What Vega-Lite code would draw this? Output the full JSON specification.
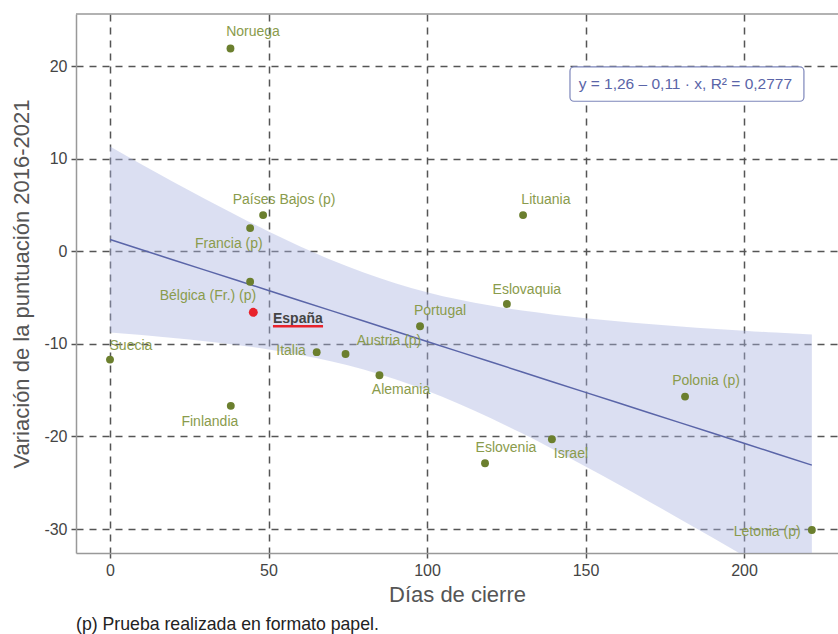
{
  "$schema": "https://vega.github.io/schema/vega-lite/v6.json",
  "width": 762,
  "height": 539,
  "autosize": {"type": "none"},
  "padding": {"left": 76, "top": 14, "right": 0, "bottom": 81},
  "config": {"font": "Liberation Sans", "view": {"stroke": null}},
  "title": {"text": "(p) Prueba realizada en formato papel.", "orient": "bottom", "anchor": "start", "frame": "group", "fontSize": 17.7, "fontWeight": "normal", "color": "#222", "offset": 11},
  "datasets": {
    "paises": [
      {"pais": "Noruega", "dias": 38, "var": 21.9, "lx": 45.1, "ly": 23.65},
      {"pais": "Países Bajos (p)", "dias": 48.3, "var": 3.9, "lx": 54.9, "ly": 5.51},
      {"pais": "Francia (p)", "dias": 44.2, "var": 2.5, "lx": 37.5, "ly": 0.76},
      {"pais": "Bélgica (Fr.) (p)", "dias": 44.2, "var": -3.3, "lx": 30.9, "ly": -4.86},
      {"pais": "España", "dias": 45.2, "var": -6.6, "lx": 51.4, "ly": -7.34},
      {"pais": "Suecia", "dias": 0, "var": -11.7, "lx": 6.6, "ly": -10.26},
      {"pais": "Finlandia", "dias": 38.1, "var": -16.7, "lx": 31.5, "ly": -18.47},
      {"pais": "Italia", "dias": 65.2, "var": -10.9, "lx": 57.1, "ly": -10.8},
      {"pais": "Austria (p)", "dias": 74.3, "var": -11.1, "lx": 88.0, "ly": -9.72},
      {"pais": "Alemania", "dias": 85, "var": -13.4, "lx": 91.8, "ly": -15.01},
      {"pais": "Portugal", "dias": 97.8, "var": -8.1, "lx": 104.1, "ly": -6.48},
      {"pais": "Eslovaquia", "dias": 125.2, "var": -5.7, "lx": 131.5, "ly": -4.21},
      {"pais": "Lituania", "dias": 130.3, "var": 3.9, "lx": 137.5, "ly": 5.51},
      {"pais": "Eslovenia", "dias": 118.3, "var": -22.9, "lx": 124.9, "ly": -21.27},
      {"pais": "Israel", "dias": 139.4, "var": -20.3, "lx": 145.4, "ly": -21.92},
      {"pais": "Polonia (p)", "dias": 181.4, "var": -15.7, "lx": 188.0, "ly": -14.04},
      {"pais": "Letonia (p)", "dias": 221.4, "var": -30.1, "lx": 207.3, "ly": -30.35}
    ],
    "banda": [
      {"dias": 0, "fit": 1.26, "lo": -8.79, "hi": 11.31},
      {"dias": 10, "fit": 0.16, "lo": -9.06, "hi": 9.38},
      {"dias": 20, "fit": -0.94, "lo": -9.37, "hi": 7.49},
      {"dias": 30, "fit": -2.04, "lo": -9.72, "hi": 5.64},
      {"dias": 40, "fit": -3.14, "lo": -10.13, "hi": 3.85},
      {"dias": 50, "fit": -4.24, "lo": -10.61, "hi": 2.13},
      {"dias": 60, "fit": -5.34, "lo": -11.2, "hi": 0.52},
      {"dias": 70, "fit": -6.44, "lo": -11.91, "hi": -0.97},
      {"dias": 80, "fit": -7.54, "lo": -12.78, "hi": -2.3},
      {"dias": 90, "fit": -8.64, "lo": -13.83, "hi": -3.45},
      {"dias": 100, "fit": -9.74, "lo": -15.06, "hi": -4.42},
      {"dias": 110, "fit": -10.84, "lo": -16.46, "hi": -5.22},
      {"dias": 120, "fit": -11.94, "lo": -18.01, "hi": -5.87},
      {"dias": 130, "fit": -13.04, "lo": -19.67, "hi": -6.41},
      {"dias": 140, "fit": -14.14, "lo": -21.43, "hi": -6.85},
      {"dias": 150, "fit": -15.24, "lo": -23.24, "hi": -7.24},
      {"dias": 160, "fit": -16.34, "lo": -25.11, "hi": -7.57},
      {"dias": 170, "fit": -17.44, "lo": -27.02, "hi": -7.86},
      {"dias": 180, "fit": -18.54, "lo": -28.96, "hi": -8.12},
      {"dias": 190, "fit": -19.64, "lo": -30.92, "hi": -8.36},
      {"dias": 200, "fit": -20.74, "lo": -32.9, "hi": -8.58},
      {"dias": 210, "fit": -21.84, "lo": -34.89, "hi": -8.79},
      {"dias": 221.4, "fit": -23.1, "lo": -37.1, "hi": -9.0}
    ],
    "caja": [
      {"x1": 145.1, "x2": 218.9, "y1": 16.2, "y2": 19.9, "xc": 181.5, "yc": 18.05, "texto": "y = 1,26 – 0,11 · x,  R² = 0,2777"}
    ],
    "subrayado": [
      {"x1": 51.4, "x2": 67.2, "y": -8.1}
    ],
    "marco": [
      {"y": 25.62}
    ]
  },
  "layer": [
    {
      "data": {"name": "banda"},
      "mark": {"type": "area", "color": "#aab2e1", "opacity": 0.42, "clip": true, "interpolate": "monotone"},
      "encoding": {
        "x": {
          "field": "dias", "type": "quantitative",
          "scale": {"domain": [-10.73, 229.65], "nice": false, "zero": false},
          "axis": {"values": [0, 50, 100, 150, 200], "grid": true, "gridDash": [7, 6], "gridColor": "#555", "gridWidth": 1.5, "domainColor": "#999", "domainWidth": 1.5, "tickColor": "#555", "tickSize": 5, "tickWidth": 1.5, "labelFontSize": 16, "labelColor": "#444", "labelPadding": 4, "title": "Días de cierre", "titleFontSize": 22, "titleColor": "#555", "titleFontWeight": "normal", "titlePadding": 6}
        },
        "y": {
          "field": "lo", "type": "quantitative",
          "scale": {"domain": [-32.59, 25.62], "nice": false, "zero": false},
          "axis": {"values": [-30, -20, -10, 0, 10, 20], "labelExpr": "replace(datum.label, '−', '-')", "grid": true, "gridDash": [7, 6], "gridColor": "#555", "gridWidth": 1.5, "domainColor": "#999", "domainWidth": 1.5, "tickColor": "#555", "tickSize": 5, "tickWidth": 1.5, "labelFontSize": 16, "labelColor": "#444", "labelPadding": 4, "title": "Variación de la puntuación 2016-2021", "titleFontSize": 22, "titleColor": "#555", "titleFontWeight": "normal", "titlePadding": 10}
        },
        "y2": {"field": "hi"}
      }
    },
    {
      "data": {"name": "marco"},
      "mark": {"type": "rule", "color": "#999", "strokeWidth": 1.5},
      "encoding": {"y": {"field": "y", "type": "quantitative"}}
    },
    {
      "data": {"name": "banda"},
      "mark": {"type": "line", "color": "#5a65a8", "strokeWidth": 1.5},
      "encoding": {
        "x": {"field": "dias", "type": "quantitative"},
        "y": {"field": "fit", "type": "quantitative"}
      }
    },
    {
      "data": {"name": "caja"},
      "mark": {"type": "rect", "fill": "white", "stroke": "#7d86bb", "strokeWidth": 1.2, "cornerRadius": 4},
      "encoding": {
        "x": {"field": "x1", "type": "quantitative"},
        "x2": {"field": "x2"},
        "y": {"field": "y1", "type": "quantitative"},
        "y2": {"field": "y2"}
      }
    },
    {
      "data": {"name": "caja"},
      "mark": {"type": "text", "color": "#5a65a8", "fontSize": 15.5, "align": "center", "baseline": "middle"},
      "encoding": {
        "x": {"field": "xc", "type": "quantitative"},
        "y": {"field": "yc", "type": "quantitative"},
        "text": {"field": "texto"}
      }
    },
    {
      "data": {"name": "paises"},
      "mark": {"type": "circle", "opacity": 1},
      "encoding": {
        "x": {"field": "dias", "type": "quantitative"},
        "y": {"field": "var", "type": "quantitative"},
        "color": {"condition": {"test": "datum.pais === 'España'", "value": "#e8222b"}, "value": "#6b7f2e"},
        "size": {"condition": {"test": "datum.pais === 'España'", "value": 80}, "value": 62}
      }
    },
    {
      "data": {"name": "paises"},
      "transform": [{"filter": "datum.pais !== 'España'"}],
      "mark": {"type": "text", "color": "#8a9b4c", "fontSize": 14, "align": "center", "baseline": "middle"},
      "encoding": {
        "x": {"field": "lx", "type": "quantitative"},
        "y": {"field": "ly", "type": "quantitative"},
        "text": {"field": "pais"}
      }
    },
    {
      "data": {"name": "paises"},
      "transform": [{"filter": "datum.pais === 'España'"}],
      "mark": {"type": "text", "color": "#444", "fontSize": 14, "fontWeight": "bold", "align": "left", "baseline": "middle"},
      "encoding": {
        "x": {"field": "lx", "type": "quantitative"},
        "y": {"field": "ly", "type": "quantitative"},
        "text": {"field": "pais"}
      }
    },
    {
      "data": {"name": "subrayado"},
      "mark": {"type": "rule", "color": "#e8222b", "strokeWidth": 2.5},
      "encoding": {
        "x": {"field": "x1", "type": "quantitative"},
        "x2": {"field": "x2"},
        "y": {"field": "y", "type": "quantitative"}
      }
    }
  ]
}
